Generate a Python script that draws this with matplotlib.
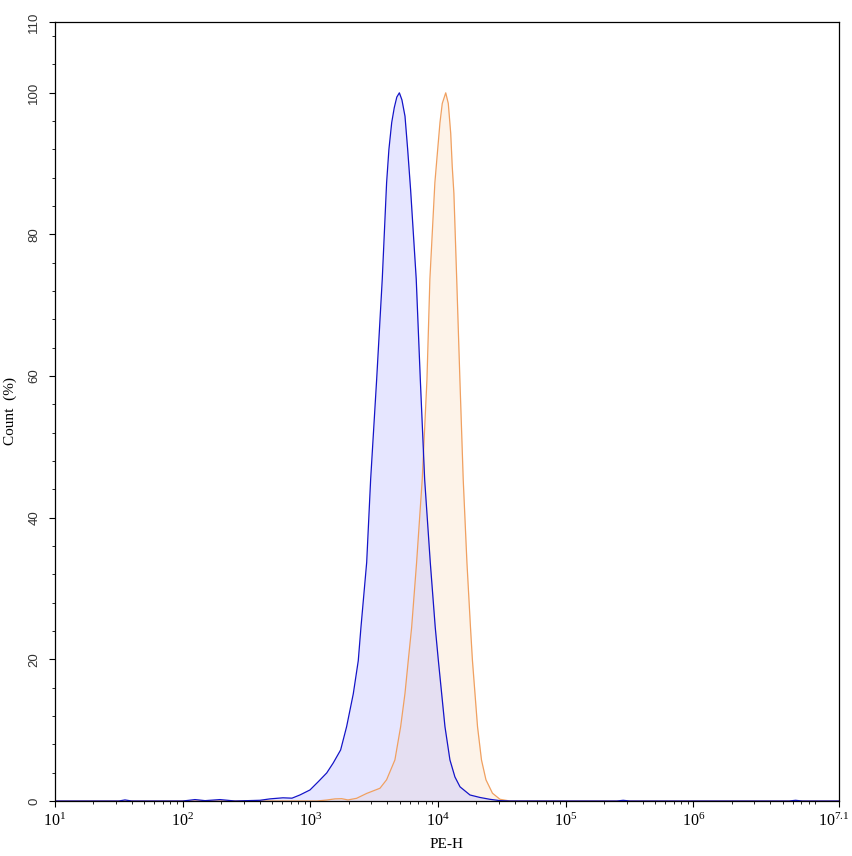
import numpy as np
import matplotlib
matplotlib.use("Agg")
import matplotlib.pyplot as plt
import matplotlib.transforms as mtransforms
from matplotlib.ticker import FixedLocator, LogLocator, NullFormatter

plt.rcParams['font.family'] = ['Liberation Serif', 'DejaVu Serif']
plt.rcParams['mathtext.fontset'] = 'custom'
plt.rcParams['mathtext.rm'] = 'Liberation Serif'

# log10(PE-H) and count (%)
blue_log = [1.0, 1.35, 1.5, 1.548, 1.6, 1.744, 2.0, 2.05, 2.096, 2.175, 2.292, 2.41, 2.605,
            2.684, 2.785, 2.856, 2.918, 2.997, 3.062, 3.128, 3.179, 3.237, 3.284, 3.336,
            3.375, 3.396, 3.441, 3.472, 3.519, 3.563, 3.597, 3.615, 3.637, 3.657, 3.677,
            3.697, 3.717, 3.741, 3.762, 3.785, 3.829, 3.861, 3.895, 3.939, 3.978, 4.002,
            4.028, 4.054, 4.093, 4.132, 4.172, 4.25, 4.328, 4.406, 4.485, 4.563,
            5.4, 5.45, 5.5, 6.75, 6.8, 6.85, 7.14]
blue_cnt = [0, 0, 0, 0.15, 0, 0, 0, 0.1, 0.2, 0.05, 0.2, 0, 0.1,
            0.3, 0.45, 0.4, 0.85, 1.56, 2.73, 3.96, 5.37, 7.21, 10.51, 15.13,
            19.8, 24.5, 33.7, 45.4, 59.5, 73.7, 87.3, 92.0, 95.8, 97.9, 99.4,
            100, 99.0, 96.7, 92.0, 86.3, 73.7, 59.5, 45.4, 33.7, 24.5, 19.9,
            15.2, 10.5, 5.8, 3.4, 2.0, 0.85, 0.5, 0.24, 0.05, 0,
            0, 0.1, 0, 0, 0.1, 0, 0]

orange_log = [1.0, 3.05, 3.128, 3.193, 3.245, 3.294, 3.362, 3.441, 3.545, 3.597, 3.662,
              3.707, 3.741, 3.767, 3.793, 3.832, 3.876, 3.913, 3.936, 3.975, 3.997,
              4.015, 4.033, 4.06, 4.08, 4.099, 4.111, 4.124, 4.146, 4.171, 4.197,
              4.226, 4.254, 4.269, 4.289, 4.309, 4.34, 4.375, 4.426, 4.485, 4.563, 7.14]
orange_cnt = [0, 0, 0.14, 0.3, 0.33, 0.15, 0.38, 1.07, 1.8, 3.0, 5.8,
              10.5, 15.2, 19.9, 24.5, 33.7, 45.4, 59.5, 73.7, 87.3, 92.0,
              95.8, 98.5, 100, 98.5, 94.3, 89.6, 85.8, 73.7, 59.5, 45.4,
              33.7, 24.5, 19.9, 15.2, 10.5, 5.8, 3.0, 1.1, 0.24, 0, 0]

x_major = [1, 2, 3, 4, 5, 6, 7.14]
x_labels = ['1', '2', '3', '4', '5', '6', '7.1']
y_major = [0, 20, 40, 60, 80, 100, 110]

bx = 10 ** np.array(blue_log)
ox = 10 ** np.array(orange_log)

fig = plt.figure(figsize=(8.53, 8.56), dpi=100)
ax = fig.add_axes([55 / 853, 1 - 801 / 856, 784 / 853, 779 / 856])

ax.fill_between(ox, orange_cnt, color='#fdf3e9', lw=0)
ax.plot(ox, orange_cnt, color='#f0a060', lw=0.9)
ax.fill_between(bx, blue_cnt, color='#c8c8ff', alpha=0.45, lw=0)
ax.plot(bx, blue_cnt, color='#1414c8', lw=0.9)

ax.set_xscale('log')
ax.set_xlim(10 ** 1, 10 ** 7.14)
ax.set_ylim(0, 110)

ax.xaxis.set_major_locator(FixedLocator([10 ** v for v in x_major]))
ax.set_xticklabels([r'$\mathregular{10^{%s}}$' % s for s in x_labels], fontsize=11.5)
ax.xaxis.set_minor_locator(LogLocator(base=10, subs=np.arange(2, 10), numticks=20))
ax.xaxis.set_minor_formatter(NullFormatter())

ax.yaxis.set_major_locator(FixedLocator(y_major))
ax.yaxis.set_minor_locator(FixedLocator(list(range(0, 110, 4))))
ax.set_yticklabels([str(v) for v in y_major], rotation=90, va='center',
                   family=['Liberation Sans', 'DejaVu Sans'], fontsize=9.5, color='#333333')

ax.tick_params(which='major', length=4.5, width=0.8, direction='out')
ax.tick_params(axis='y', which='major', pad=6)
ax.tick_params(axis='x', which='major', pad=4)
ax.tick_params(which='minor', length=2.5, width=0.6, direction='out')
for s in ax.spines.values():
    s.set_linewidth(0.9)

# last x label sits right at the figure edge, nudge it in a bit
last = ax.get_xticklabels()[-1]
last.set_transform(last.get_transform() +
                   mtransforms.ScaledTranslation(-4 / 72, 0, fig.dpi_scale_trans))

ax.set_xlabel('PE-H', fontsize=11, labelpad=6)
ax.set_ylabel('Count  (%)', fontsize=11, labelpad=8)

fig.savefig('out.png', dpi=100)
